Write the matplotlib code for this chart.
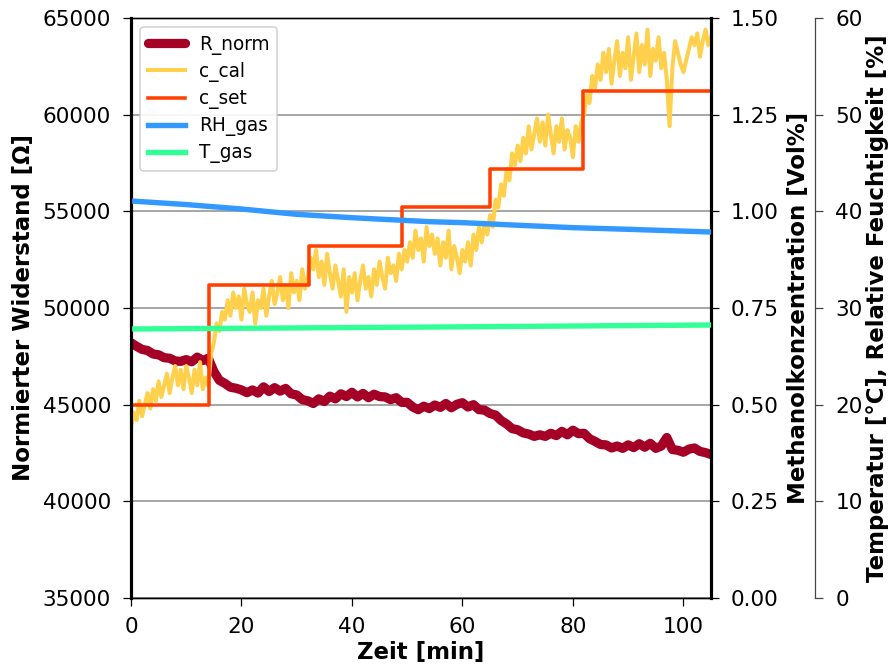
import numpy as np
import matplotlib
matplotlib.use("Agg")
import matplotlib.pyplot as plt

# ---- measured series -------------------------------------------------------
# normalised sensor resistance, one sample per minute (0 ... 105 min)
r_norm = [
    48200, 48020, 47860, 47800, 47620, 47580, 47430, 47400, 47260, 47240,
    47330, 47220, 47460, 47280, 47400, 46720, 46260, 46100, 45900, 45850,
    45760, 45620, 45760, 45600, 45920, 45680, 45880, 45700, 45840, 45560,
    45500, 45260, 45200, 45060, 45300, 45160, 45440, 45300, 45560, 45420,
    45640, 45400, 45580, 45360, 45540, 45420, 45400, 45260, 45360, 45120,
    45120, 44880, 44740, 44920, 44800, 44980, 44860, 45060, 44840, 45020,
    45100, 44880, 45000, 44740, 44720, 44540, 44460, 44180, 44000, 43760,
    43700, 43540, 43480, 43360, 43440, 43360, 43520, 43400, 43620, 43440,
    43680, 43500, 43520, 43240, 43100, 42940, 42920, 42760, 42860, 42740,
    42920, 42780, 42980, 42800, 43000, 42740, 42860, 43300, 42680, 42640,
    42540, 42700, 42760, 42580, 42520, 42420,
]

# calibrated methanol concentration, one sample every 0.5 min
c_cal = [
    0.44, 0.48, 0.46, 0.51, 0.47, 0.50, 0.53, 0.49, 0.54, 0.51,
    0.56, 0.52, 0.55, 0.58, 0.53, 0.57, 0.60, 0.55, 0.59, 0.54,
    0.60, 0.57, 0.53, 0.59, 0.55, 0.61, 0.54, 0.57, 0.55,
    0.63, 0.66, 0.71, 0.69, 0.74, 0.72, 0.77, 0.73, 0.79, 0.75,
    0.78, 0.72, 0.80, 0.76, 0.74, 0.79, 0.71, 0.77, 0.75, 0.80, 0.73,
    0.78, 0.82, 0.76, 0.79, 0.83, 0.77, 0.81, 0.75, 0.84, 0.79, 0.82, 0.77, 0.85, 0.80,
    0.83, 0.88, 0.85, 0.90, 0.83, 0.87, 0.81, 0.89, 0.84, 0.80, 0.86, 0.82, 0.78, 0.85, 0.74, 0.83,
    0.79, 0.84, 0.77, 0.82, 0.86, 0.80, 0.83, 0.78, 0.85, 0.81,
    0.87, 0.83, 0.80, 0.88, 0.84, 0.86, 0.82, 0.89, 0.85, 0.90,
    0.87, 0.92, 0.88, 0.95, 0.90, 0.93, 0.87, 0.96, 0.91, 0.94,
    0.89, 0.93, 0.86, 0.92, 0.88, 0.95, 0.85, 0.91, 0.88, 0.84,
    0.90, 0.87, 0.92, 0.86, 0.94, 0.90, 0.96, 0.92, 0.97, 0.94,
    0.99, 0.96, 1.03, 1.01, 1.07, 1.04, 1.11, 1.08, 1.15, 1.12,
    1.17, 1.13, 1.19, 1.15, 1.22, 1.16, 1.20, 1.24, 1.18, 1.23, 1.17, 1.25,
    1.20, 1.15, 1.22, 1.18, 1.24, 1.16, 1.21, 1.19, 1.14, 1.22, 1.18, 1.23,
    1.25, 1.30, 1.28, 1.35, 1.32, 1.38, 1.34, 1.41,
    1.36, 1.42, 1.33, 1.39, 1.44, 1.35, 1.41, 1.37, 1.45, 1.34, 1.40,
    1.46, 1.36, 1.43, 1.38, 1.47, 1.35, 1.42, 1.39, 1.45, 1.37, 1.41,
    1.34, 1.22, 1.37, 1.44, 1.41, 1.38, 1.36, 1.39, 1.42, 1.45,
    1.43, 1.46, 1.40, 1.44, 1.47, 1.43, 1.45,
]

# set-point concentration: switching times [min] and levels [Vol%]
c_set_t = [0.0, 14.1, 32.2, 49.0, 64.9, 81.8, 105.0]
c_set = [0.50, 0.81, 0.91, 1.01, 1.11, 1.31, 1.31]

# gas humidity [%] and temperature [°C]
rh_t = [0, 10, 20, 30, 40, 54, 60, 70, 80, 90, 105]
rh_gas = [41.07, 40.70, 40.24, 39.69, 39.34, 38.93, 38.83, 38.56, 38.31, 38.14, 37.86]
t_t = [0, 52, 105]
t_gas = [27.83, 28.02, 28.24]

# ---- figure -----------------------------------------------------------------
plt.rcParams["font.family"] = "DejaVu Sans"
plt.rcParams["font.size"] = 14
plt.rcParams["xtick.major.size"] = 5
plt.rcParams["ytick.major.size"] = 5
plt.rcParams["xtick.major.pad"] = 7
plt.rcParams["ytick.major.pad"] = 8

fig = plt.figure(figsize=(8, 6), dpi=111)
ax1 = fig.add_axes([0.1475, 0.1021, 0.6532, 0.8709])
ax2 = ax1.twinx()
ax3 = ax1.twinx()
ax3.spines["right"].set_position(("axes", 1.18))

t_r = np.arange(len(r_norm)) * 1.0
t_c = np.linspace(0, 105, len(c_cal))

l1, = ax1.plot(t_r, r_norm, color="#a50026", lw=6, label="R_norm",
               solid_capstyle="round", solid_joinstyle="round")
l2, = ax2.plot(t_c, c_cal, color="#fed04b", lw=2.6, label="c_cal")
l3, = ax2.step(c_set_t, c_set, where="post", color="#ff4000", lw=2.3, label="c_set")
l4, = ax3.plot(rh_t, rh_gas, color="#3399ff", lw=3.5, label="RH_gas")
l5, = ax3.plot(t_t, t_gas, color="#33ff99", lw=3.5, label="T_gas")

ax1.set_xlim(0, 105)
ax1.set_ylim(35000, 65000)
ax2.set_ylim(0, 1.5)
ax3.set_ylim(0, 60)

ax1.set_yticks(np.arange(35000, 65001, 5000))
ax2.set_yticks([0, 0.25, 0.5, 0.75, 1.0, 1.25, 1.5])
ax2.set_yticklabels(["0.00", "0.25", "0.50", "0.75", "1.00", "1.25", "1.50"])
ax3.set_yticks(np.arange(0, 61, 10))

ax1.yaxis.grid(True, color="#a0a0a0", lw=1.2)
ax1.set_axisbelow(True)

lab = dict(fontweight="bold", fontsize=14.8)
ax1.set_xlabel("Zeit [min]", labelpad=3, **lab)
ax1.set_ylabel("Normierter Widerstand [Ω]", labelpad=5, **lab)
ax2.set_ylabel("Methanolkonzentration [Vol%]", labelpad=5, **lab)
ax3.set_ylabel("Temperatur [°C], Relative Feuchtigkeit [%]", labelpad=2, **lab)

for ax in (ax1, ax2):
    ax.spines["left"].set_linewidth(2)
    ax.spines["right"].set_linewidth(2)
ax3.spines["right"].set_color("#444444")
ax3.tick_params(axis="y", colors="#444444", labelcolor="black")

ax3.legend(handles=[l1, l2, l3, l4, l5], loc="upper left", fontsize=12,
           framealpha=0.9, labelspacing=0.39)

fig.savefig("out.png", dpi=111)
